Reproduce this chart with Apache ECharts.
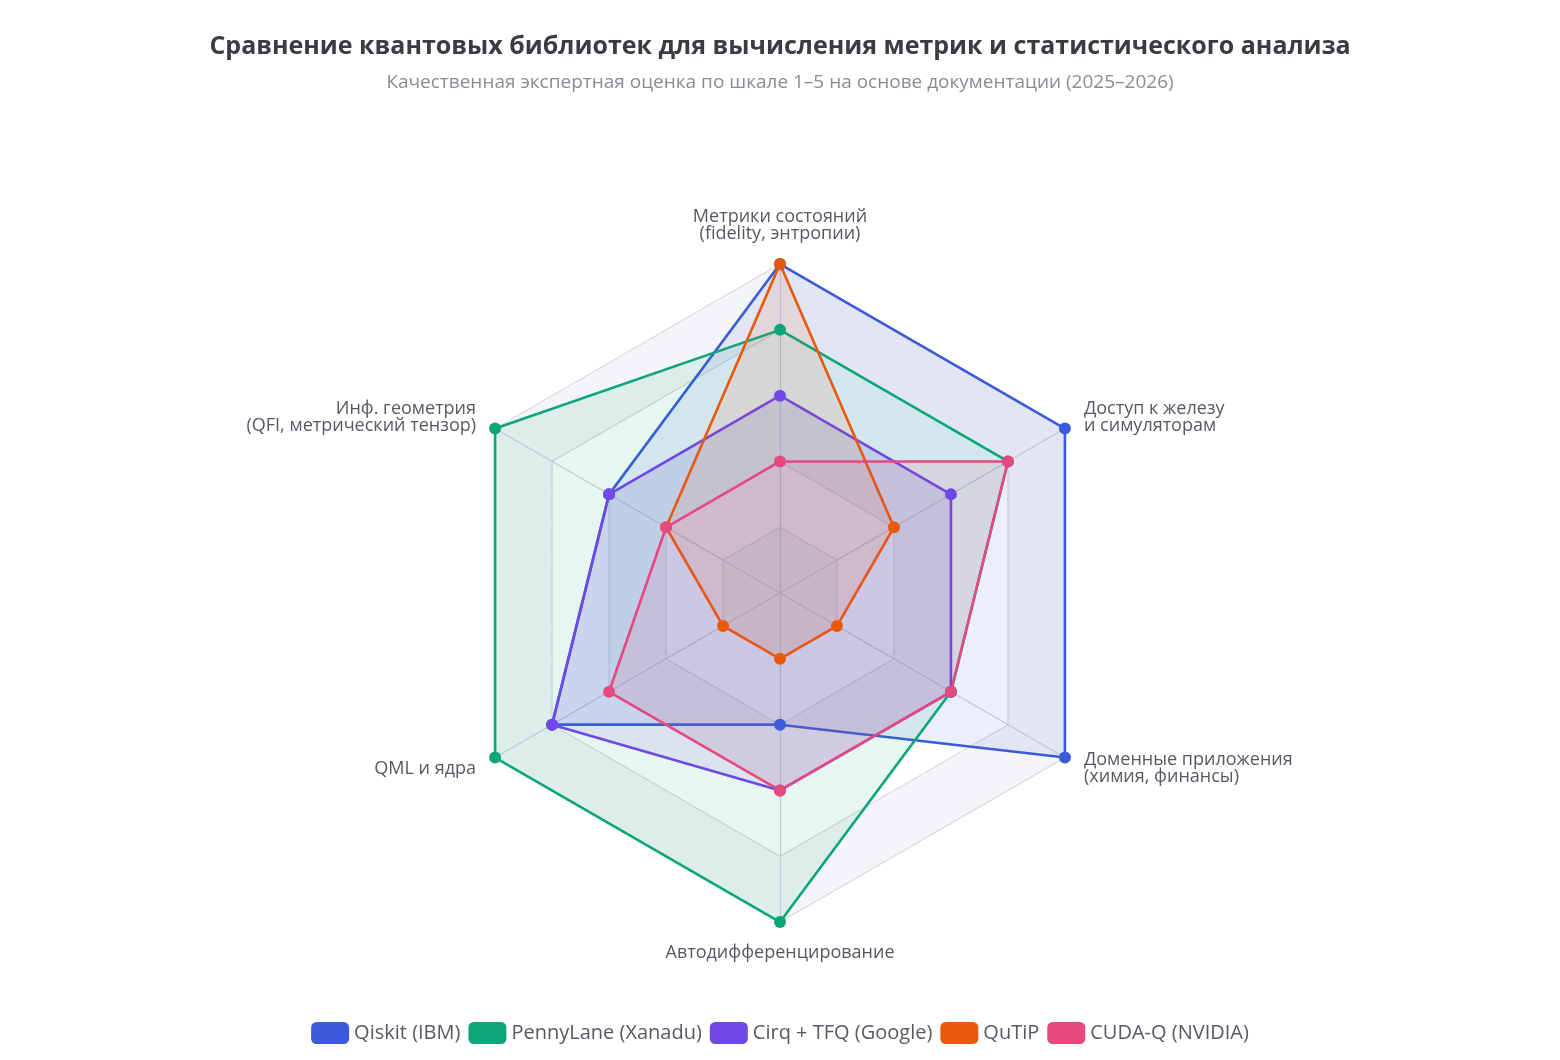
<!DOCTYPE html>
<html><head><meta charset="utf-8">
<script src="https://cdn.jsdelivr.net/npm/echarts@6/dist/echarts.min.js"></script>
<style>html,body{margin:0;padding:0;background:#fff}#c{width:1560px;height:1060px}</style>
</head><body><div id="c"></div>
<script>
// Indicators listed counterclockwise from the top (ECharts radar order)
const indicators = [
  'Метрики состояний\n(fidelity, энтропии)',
  'Инф. геометрия\n(QFI, метрический тензор)',
  'QML и ядра',
  'Автодифференцирование',
  'Доменные приложения\n(химия, финансы)',
  'Доступ к железу\nи симуляторам'
];
const seriesNames = ['Qiskit (IBM)', 'PennyLane (Xanadu)', 'Cirq + TFQ (Google)', 'QuTiP', 'CUDA-Q (NVIDIA)'];
const qiskit    = [5, 3, 4, 2, 5, 5];
const pennylane = [4, 5, 5, 5, 3, 4];
const cirq      = [3, 3, 4, 3, 3, 3];
const qutip     = [5, 2, 1, 1, 1, 2];
const cudaq     = [2, 2, 3, 3, 3, 4];
const allValues = [qiskit, pennylane, cirq, qutip, cudaq];
const colors = ['#3b5bdb', '#0ca678', '#7048e8', '#e8590c', '#e64980'];

const chart = echarts.init(document.getElementById('c'));
chart.setOption({
  backgroundColor: '#ffffff',
  color: colors,
  title: {
    text: 'Сравнение квантовых библиотек для вычисления метрик и статистического анализа',
    subtext: 'Качественная экспертная оценка по шкале 1–5 на основе документации (2025–2026)',
    left: 'center', top: 29, itemGap: 14,
    textStyle: { fontFamily: 'Open Sans', fontSize: 25, fontWeight: 'bold', color: '#3b3b44' },
    subtextStyle: { fontFamily: 'Open Sans', fontSize: 19, color: '#8b8b93' }
  },
  legend: {
    bottom: 11, left: 'center',
    itemWidth: 38, itemHeight: 22, itemGap: 8,
    icon: 'roundRect',
    textStyle: { fontFamily: 'Open Sans', fontSize: 20, color: '#555a62' },
    data: seriesNames
  },
  radar: {
    center: ['50%', '55.95%'],
    radius: 329,
    startAngle: 90,
    splitNumber: 5,
    shape: 'polygon',
    indicator: indicators.map(n => ({ name: n, min: 0, max: 5 })),
    nameGap: 22,
    axisName: { fontFamily: 'Open Sans', fontSize: 18, color: '#555a62', lineHeight: 17 },
    splitLine: { lineStyle: { color: '#d8dbe0', width: 1.2 } },
    axisLine: { lineStyle: { color: '#d0d3d9', width: 1.2 } },
    splitArea: { show: true, areaStyle: { color: ['#f4f5f8', '#ffffff'] } }
  },
  series: [{
    type: 'radar',
    symbol: 'circle',
    symbolSize: 12,
    lineStyle: { width: 2.6 },
    areaStyle: { opacity: 0.1 },
    data: seriesNames.map((n, i) => ({
      name: n, value: allValues[i],
      itemStyle: { color: colors[i] },
      lineStyle: { color: colors[i], width: 2.6 },
      areaStyle: { color: colors[i], opacity: 0.1 }
    }))
  }]
});
</script></body></html>
